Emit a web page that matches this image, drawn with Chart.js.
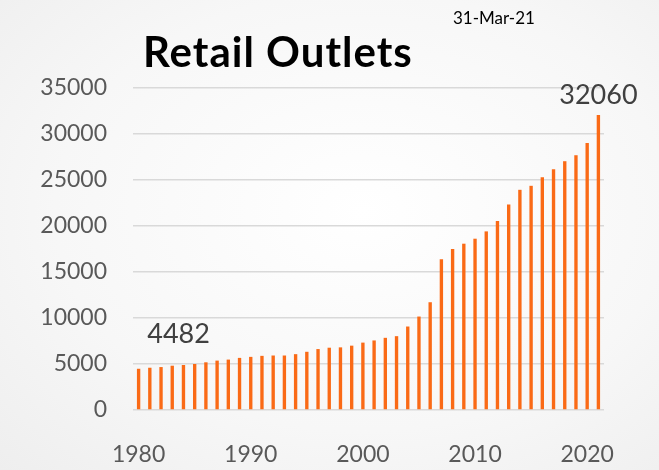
<!DOCTYPE html>
<html>
<head>
<meta charset="utf-8">
<script src="https://cdn.jsdelivr.net/npm/chart.js@4"></script>
<style>
  html, body { margin: 0; padding: 0; }
  body {
    width: 659px; height: 470px; overflow: hidden; position: relative;
    background: radial-gradient(ellipse at 55% 45%, #ffffff 0%, #f7f7f7 60%, #eeeeee 100%);
    font-family: Lato, "Open Sans", sans-serif;
  }
  #wrap { position: absolute; left: 0; top: 0; width: 659px; height: 470px; }
  .title {
    position: absolute; left: 143px; top: 26px;
    font-size: 42px; font-weight: bold; color: #000; letter-spacing: 1px;
    line-height: 1.2;
  }
  .date {
    position: absolute; left: 453px; top: 8px;
    font-size: 17px; color: #000; line-height: 1.2;
  }
</style>
</head>
<body>
<div id="wrap"><canvas id="chart" width="659" height="470"></canvas></div>
<div class="title">Retail Outlets</div>
<div class="date">31-Mar-21</div>
<script>
"use strict";

// -------------------- data --------------------
const years = [];
for (let y = 1980; y <= 2021; y++) years.push(y);

const outlets = [
  4482, 4594, 4668, 4815, 4889, 5000, 5185, 5369, 5480, 5664,
  5775, 5886, 5923, 5923, 6070, 6328, 6624, 6771, 6808, 6993,
  7325, 7560, 7845, 8026, 9074, 10159, 11714, 16377, 17498, 18077,
  18619, 19415, 20535, 22343, 23934, 24368, 25307, 26175, 27043, 27693,
  29031, 32060
];

const yTicks = [0, 5000, 10000, 15000, 20000, 25000, 30000, 35000];

// only first and last bar get a value label
const labelled = [0, outlets.length - 1];

// -------------------- plugin for the value labels --------------------
const valueLabels = {
  id: "valueLabels",
  afterDatasetsDraw(chart) {
    let ctx = chart.ctx;
    let meta = chart.getDatasetMeta(0);
    ctx.save();
    ctx.font = "27px Lato, sans-serif";
    ctx.fillStyle = "#404040";
    ctx.textAlign = "center";
    ctx.textBaseline = "middle";
    for (let i of labelled) {
      let bar = meta.data[i];
      // first label sits off to the right of its bar
      let dx = i === 0 ? 40 : 0;
      ctx.fillText(String(outlets[i]), bar.x + dx, bar.y - (i === 0 ? 34 : 20));
    }
    ctx.restore();
  }
};

// -------------------- chart --------------------
let ctx = document.getElementById("chart").getContext("2d");
new Chart(ctx, {
  type: "bar",
  data: {
    labels: years,
    datasets: [{
      data: outlets,
      backgroundColor: "#fa6a16",
      borderWidth: 0,
      barPercentage: 0.6,
      categoryPercentage: 0.5
    }]
  },
  options: {
    responsive: false,
    animation: false,
    layout: { padding: { top: 88, right: 55, bottom: 0, left: 0 } },
    plugins: {
      legend: { display: false },
      tooltip: { enabled: false }
    },
    scales: {
      x: {
        grid: { display: false, drawTicks: false },
        border: { display: false },
        ticks: {
          autoSkip: false,
          maxRotation: 0,
          padding: 31,
          color: "#595959",
          font: { family: "Lato", size: 23 },
          callback: function (value, index) {
            let yr = years[index];
            return yr % 10 === 0 ? String(yr) : "";
          }
        },
        afterFit: function (scale) { scale.height = 60; }
      },
      y: {
        min: 0,
        max: 35000,
        afterBuildTicks: function (scale) {
          scale.ticks = yTicks.map(v => ({ value: v }));
        },
        grid: { color: "#d9d9d9", lineWidth: 1.5, drawTicks: false },
        border: { display: false },
        ticks: {
          padding: 26,
          color: "#595959",
          font: { family: "Lato", size: 23 },
          callback: function (value) { return String(value); }
        },
        afterFit: function (scale) { scale.width = 133; }
      }
    }
  },
  plugins: [valueLabels]
});
</script>
</body>
</html>
